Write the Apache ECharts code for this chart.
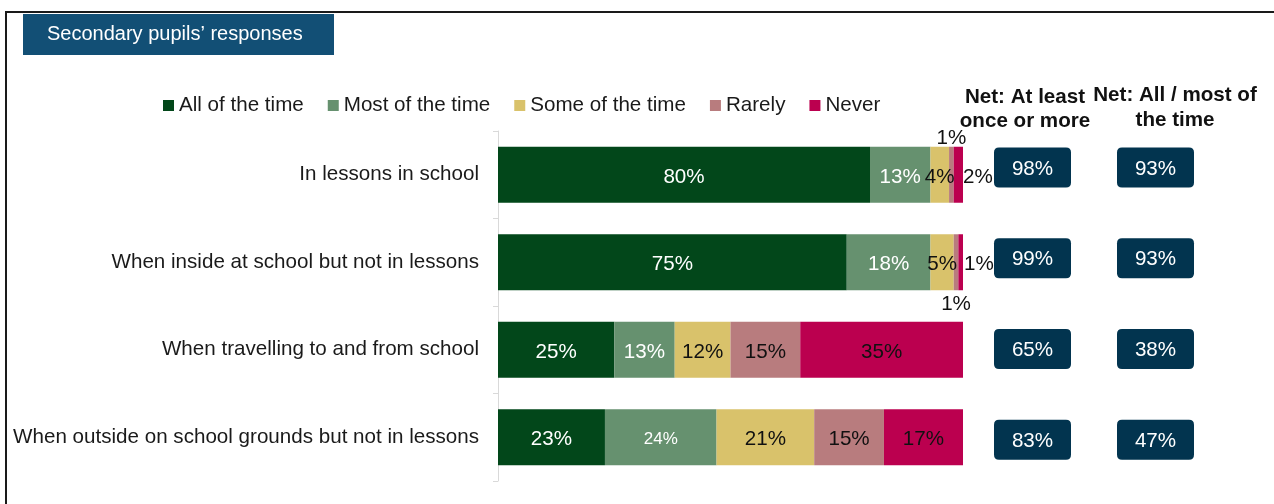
<!DOCTYPE html>
<html>
<head>
<meta charset="utf-8">
<script src="https://cdn.jsdelivr.net/npm/echarts@6/dist/echarts.min.js"></script>
<style>
html,body{margin:0;padding:0;background:#fff;}
#chart{width:1274px;height:504px;}
</style>
</head>
<body>
<div id="chart"></div>
<script>
// ---- data ----
const categories = [
  'In lessons in school',
  'When inside at school but not in lessons',
  'When travelling to and from school',
  'When outside on school grounds but not in lessons'
];
const seriesNames = ['All of the time', 'Most of the time', 'Some of the time', 'Rarely', 'Never'];
const allOfTheTime = [80, 75, 25, 23];
const mostOfTheTime = [13, 18, 13, 24];
const someOfTheTime = [4, 5, 12, 21];
const rarely = [1, 1, 15, 15];
const never = [2, 1, 35, 17];
const netColumns = ['Net: At least once or more', 'Net: All / most of the time'];
const netAtLeastOnce = [98, 99, 65, 83];
const netAllMost = [93, 93, 38, 47];

// ---- styles ----
const FONT = '"Liberation Sans", Arial, sans-serif';
const FS = 20.6;
const colors = ['#02471a', '#66916f', '#d9c26b', '#b87c7e', '#bb004f'];
const labelColors = ['#ffffff', '#ffffff', '#111111', '#111111', '#111111'];
const seriesValues = [allOfTheTime, mostOfTheTime, someOfTheTime, rarely, never];
// label overrides for small segments (series index - row index)
const labelOverrides = {
  '1-3': { fontSize: 17 },
  '3-0': { position: 'top', distance: 0 },
  '4-0': { position: 'right', distance: 0 },
  '3-1': { position: 'bottom', distance: 1 },
  '4-1': { position: 'right', distance: 1 }
};
const BOX = 'path://M5,0 H72 Q77,0 77,5 V35 Q77,40 72,40 H5 Q0,40 0,35 V5 Q0,0 5,0 Z';

const chart = echarts.init(document.getElementById('chart'), null, { renderer: 'canvas' });

const barSeries = seriesNames.map((name, si) => ({
  name: name,
  type: 'bar',
  stack: 'total',
  xAxisIndex: 0,
  yAxisIndex: 0,
  barWidth: 56,
  itemStyle: { color: colors[si] },
  label: {
    show: true,
    position: 'inside',
    formatter: '{c}%',
    color: labelColors[si],
    fontSize: FS,
    fontFamily: FONT,
    offset: [0, 2.5]
  },
  emphasis: { disabled: true },
  data: seriesValues[si].map((v, ri) => {
    const o = labelOverrides[si + '-' + ri];
    const item = { value: v };
    if (o) {
      item.label = Object.assign({}, o);
      if (o.position) item.label.color = '#111111';
    }
    return item;
  })
}));

const netSeries = [netAtLeastOnce, netAllMost].map((arr, ci) => ({
  name: netColumns[ci],
  type: 'scatter',
  xAxisIndex: 1,
  yAxisIndex: 1,
  symbol: BOX,
  symbolKeepAspect: false,
  symbolSize: [77, 40],
  itemStyle: { color: '#02344f', opacity: 1 },
  label: {
    show: true,
    position: 'inside',
    color: '#ffffff',
    fontSize: FS,
    fontFamily: FONT,
    offset: [0, 1.5],
    formatter: p => p.value[2] + '%'
  },
  emphasis: { disabled: true },
  data: arr.map((v, ri) => [netColumns[ci], categories[ri], v])
}));

const option = {
  animation: false,
  textStyle: { fontFamily: FONT },
  title: {
    text: 'Secondary pupils\u2019 responses',
    left: 23,
    top: 14,
    backgroundColor: '#124f75',
    padding: [10, 24, 10, 24],
    textStyle: { color: '#ffffff', fontSize: 20, fontWeight: 'normal', fontFamily: FONT, width: 263, lineHeight: 21 }
  },
  legend: {
    data: seriesNames,
    left: 163,
    top: 95,
    padding: 0,
    itemWidth: 11,
    itemHeight: 11,
    itemGap: 24,
    icon: 'rect',
    textStyle: { fontSize: FS, color: '#1a1a1a', fontFamily: FONT },
    selectedMode: false
  },
  grid: [
    { left: 498, top: 131, width: 465, height: 350 },
    { left: 971, top: 122, width: 246, height: 363 }
  ],
  xAxis: [
    { type: 'value', gridIndex: 0, min: 0, max: 100, show: false },
    { type: 'category', gridIndex: 1, data: netColumns, show: false }
  ],
  yAxis: [
    {
      type: 'category', gridIndex: 0, data: categories, inverse: true,
      axisLine: { show: true, lineStyle: { color: '#d9d9d9', width: 1 } },
      axisTick: { show: true, length: 5, lineStyle: { color: '#d9d9d9' } },
      axisLabel: { fontSize: FS, color: '#1a1a1a', margin: 19, fontFamily: FONT, padding: [5, 0, 0, 0] }
    },
    { type: 'category', gridIndex: 1, data: categories, inverse: true, show: false }
  ],
  graphic: [
    {
      type: 'polyline', silent: true,
      shape: { points: [[6, 504], [6, 12], [1274, 12]] },
      style: { stroke: '#1a1a1a', lineWidth: 2, fill: null }
    },
    {
      type: 'text', x: 1025, y: 109, silent: true,
      style: { text: 'Net: At least\nonce or more', align: 'center', verticalAlign: 'middle', fontSize: FS, fontWeight: 'bold', fontFamily: FONT, fill: '#111111', lineHeight: 24 }
    },
    {
      type: 'text', x: 1175, y: 107.5, silent: true,
      style: { text: 'Net: All / most of\nthe time', align: 'center', verticalAlign: 'middle', fontSize: FS, fontWeight: 'bold', fontFamily: FONT, fill: '#111111', lineHeight: 25 }
    }
  ],
  series: barSeries.concat(netSeries)
};
chart.setOption(option);
</script>
</body>
</html>
